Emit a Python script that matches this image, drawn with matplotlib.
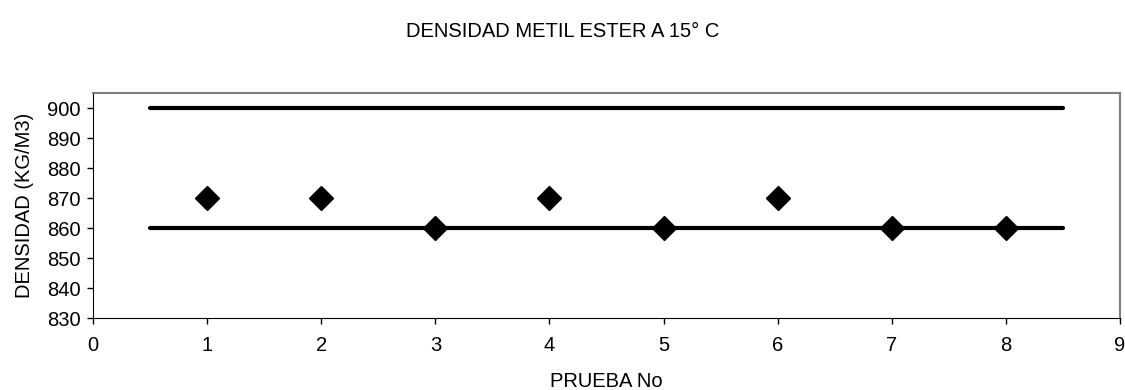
import matplotlib.pyplot as plt

plt.rcParams['font.family'] = ['Liberation Sans', 'DejaVu Sans']

# density readings per test
pruebas = [1, 2, 3, 4, 5, 6, 7, 8]
densidad = [870, 870, 860, 870, 860, 870, 860, 860]

# spec limits
lim_x = [0.5, 8.5]
lim_sup = [900, 900]
lim_inf = [860, 860]

fig = plt.figure(figsize=(11.25, 3.9), dpi=100)
ax = fig.add_axes([0.0827, 0.1846, 0.9129, 0.5769])

ax.plot(lim_x, lim_sup, color='black', lw=3.0, solid_capstyle='round', zorder=2)
ax.plot(lim_x, lim_inf, color='black', lw=3.0, solid_capstyle='round', zorder=2)
ax.plot(pruebas, densidad, linestyle='none', marker='D', markersize=12.5,
        color='black', zorder=3)

ax.set_xlim(0, 9)
ax.set_ylim(830, 905)
ax.set_xticks(range(0, 10))
ax.set_yticks(range(830, 901, 10))
ax.tick_params(labelsize=14.5, length=4, width=1, colors='black')
ax.tick_params(axis='x', pad=9)
ax.tick_params(axis='y', pad=5)

for s in ['top', 'right']:
    ax.spines[s].set_color('#808080')
    ax.spines[s].set_linewidth(1.5)
ax.spines['left'].set_color('black')
ax.spines['bottom'].set_color('black')

ax.set_xlabel('PRUEBA No', fontsize=14.5, labelpad=12)
ax.set_ylabel('DENSIDAD (KG/M3)', fontsize=14.5, labelpad=9)
fig.text(0.5, 0.92, 'DENSIDAD METIL ESTER A 15° C', ha='center', va='center', fontsize=14.5)

fig.savefig('out.png', dpi=100)
